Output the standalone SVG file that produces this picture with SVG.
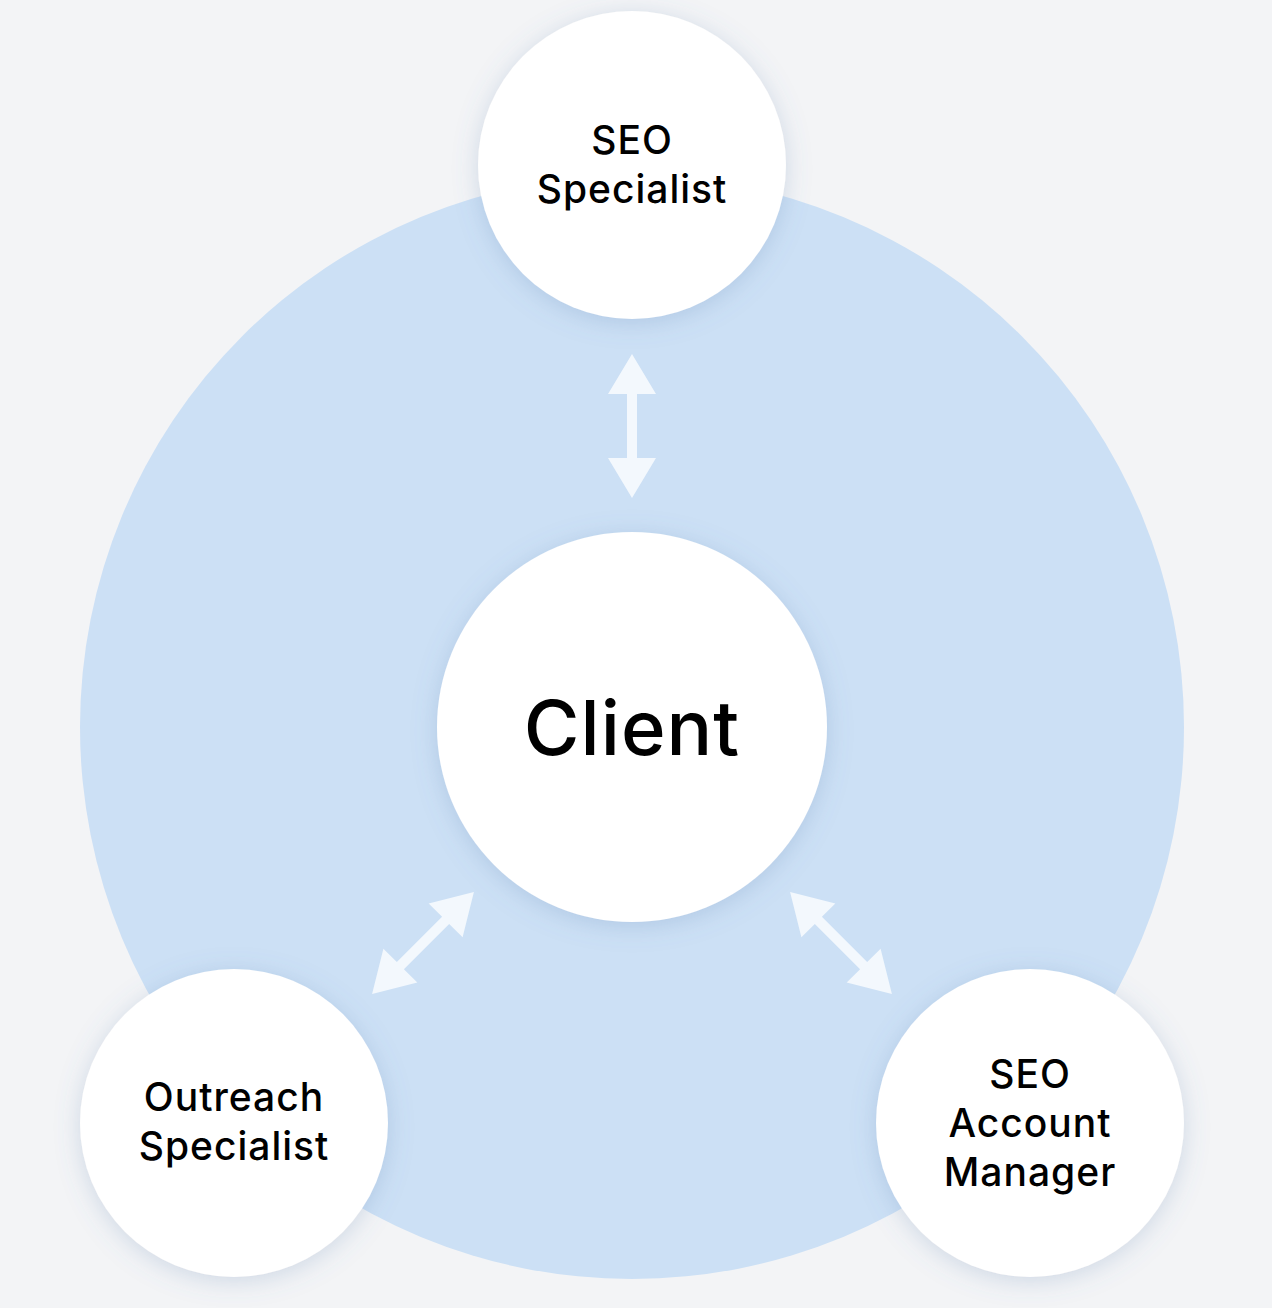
<svg xmlns="http://www.w3.org/2000/svg" width="1272" height="1308" viewBox="0 0 1272 1308">
<style>
.node{fill:#ffffff;filter:url(#sh)}
.lbl{font-family:Inter,"Liberation Sans",sans-serif;font-size:39px;font-weight:500;fill:#000;text-anchor:middle;letter-spacing:1px}
.big{font-family:Inter,"Liberation Sans",sans-serif;font-size:76px;font-weight:500;fill:#000;text-anchor:middle;letter-spacing:1px}
.arr{fill:#f3f8fd}
</style>
<defs>
<filter id="sh" x="-30%" y="-30%" width="160%" height="160%">
<feDropShadow dx="0" dy="4" stdDeviation="12" flood-color="#5a7fb0" flood-opacity="0.25"/>
</filter>
<path id="dbl" d="M0,-72 L24,-32 L5,-32 L5,32 L24,32 L0,72 L-24,32 L-5,32 L-5,-32 L-24,-32 Z"/>
</defs>
<rect width="1272" height="1308" fill="#f3f4f6"/>
<circle cx="632" cy="727" r="552" fill="#cce0f5"/>
<g id="connectors" class="arr">
<use href="#dbl" transform="translate(632,426)"/>
<use href="#dbl" transform="translate(423,943) rotate(45)"/>
<use href="#dbl" transform="translate(841,943) rotate(-45)"/>
</g>
<g id="node-seo-specialist">
<circle class="node" cx="632" cy="165" r="154"/>
<text class="lbl" x="632" y="154">SEO</text>
<text class="lbl" x="632" y="203">Specialist</text>
</g>
<g id="node-client">
<circle class="node" cx="632" cy="727" r="195"/>
<text class="big" x="632" y="755">Client</text>
</g>
<g id="node-outreach">
<circle class="node" cx="234" cy="1123" r="154"/>
<text class="lbl" x="234" y="1111">Outreach</text>
<text class="lbl" x="234" y="1160">Specialist</text>
</g>
<g id="node-account-manager">
<circle class="node" cx="1030" cy="1123" r="154"/>
<text class="lbl" x="1030" y="1088">SEO</text>
<text class="lbl" x="1030" y="1137">Account</text>
<text class="lbl" x="1030" y="1186">Manager</text>
</g>
</svg>
